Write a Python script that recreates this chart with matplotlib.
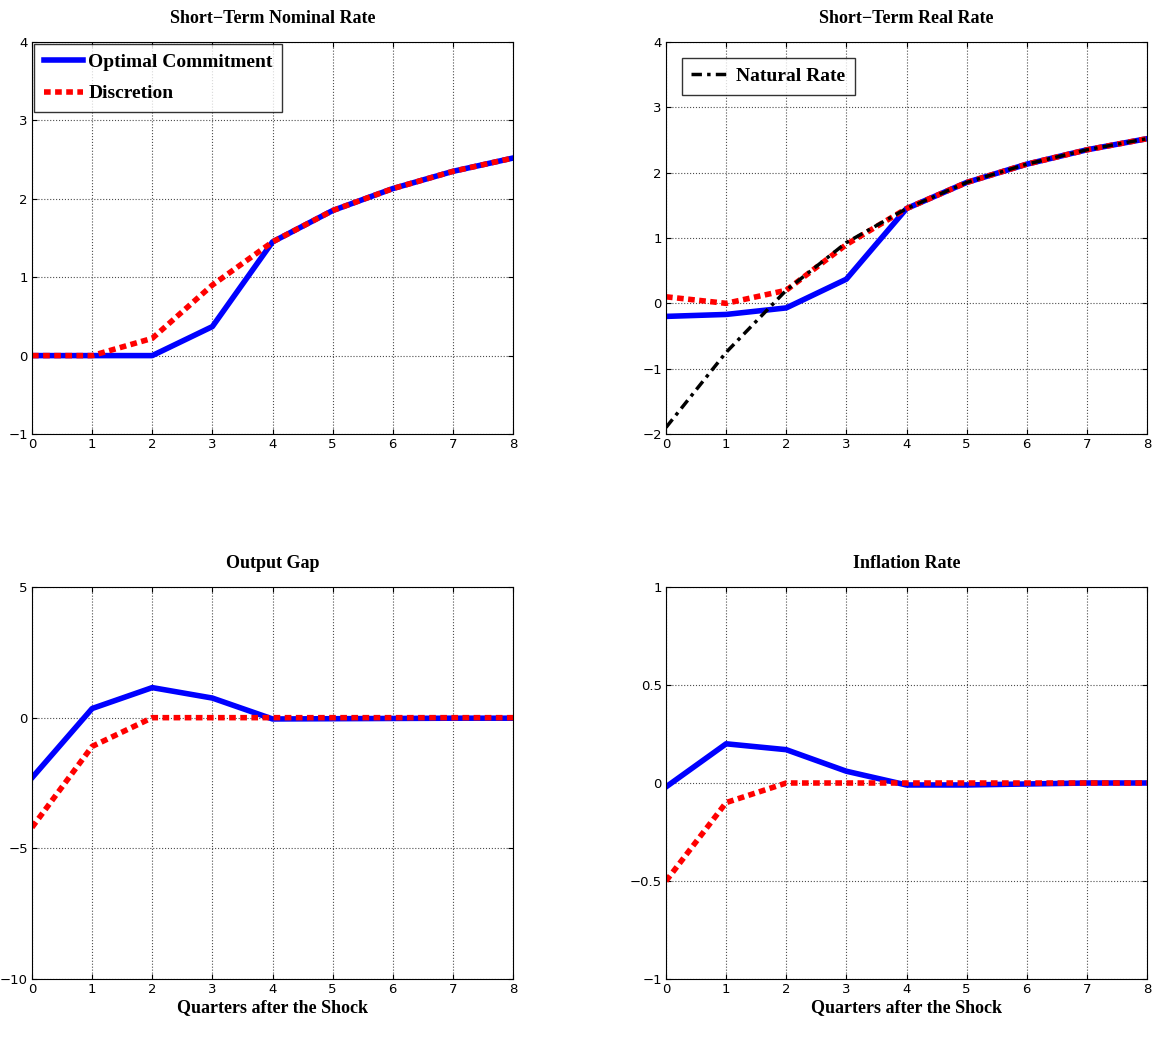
import matplotlib
matplotlib.use("Agg")
import matplotlib.pyplot as plt

x = list(range(9))
nom_commit = [0, 0, 0, 0.37, 1.45, 1.85, 2.13, 2.35, 2.52]
nom_disc = [0, 0, 0.22, 0.9, 1.45, 1.85, 2.13, 2.35, 2.52]
real_commit = [-0.2, -0.17, -0.07, 0.37, 1.45, 1.85, 2.13, 2.35, 2.52]
real_disc = [0.1, 0.0, 0.2, 0.9, 1.45, 1.85, 2.13, 2.35, 2.52]
real_nat = [-1.9, -0.75, 0.2, 0.93, 1.45, 1.85, 2.13, 2.35, 2.52]
gap_commit = [-2.3, 0.35, 1.15, 0.75, -0.05, -0.04, -0.03, -0.02, -0.02]
gap_disc = [-4.2, -1.1, 0, 0, 0, 0, 0, 0, 0]
inf_commit = [-0.02, 0.2, 0.17, 0.06, -0.01, -0.01, -0.005, 0, 0]
inf_disc = [-0.5, -0.1, 0, 0, 0, 0, 0, 0, 0]

fig = plt.figure(figsize=(11.56, 10.38), dpi=100)
L = [32/1156, 666/1156]
B = [1-434/1038, 1-979/1038]
W, H = 481/1156, 392/1038
tfont = {'family': 'Liberation Serif', 'weight': 'bold', 'size': 13}

def setup(ax, title, ylim, yticks, xlabel=False):
    ax.set_xlim(0, 8)
    ax.set_ylim(*ylim)
    ax.set_xticks(x)
    ax.set_yticks(yticks)
    ax.grid(True, linestyle=':', color='0.3', linewidth=0.8)
    ax.tick_params(direction='in', labelsize=9.5, top=True, right=True, pad=3)
    ax.set_title(title, fontdict=tfont, pad=14)
    if xlabel:
        ax.set_xlabel('Quarters after the Shock', fontdict=tfont, labelpad=2)

lp = {'family': 'Liberation Serif', 'weight': 'bold', 'size': 14}
ax1 = fig.add_axes([L[0], B[0], W, H])
ax1.plot(x, nom_commit, color='blue', lw=4, label='Optimal Commitment')
ax1.plot(x, nom_disc, color='red', lw=4, ls=(0, (1.2, 0.8)), label='Discretion')
setup(ax1, 'Short\u2212Term Nominal Rate', (-1, 4), range(-1, 5))
ax1.legend(loc='upper left', fancybox=False, edgecolor='black', prop=lp, borderaxespad=0.1, handlelength=2, handletextpad=0.3, labelspacing=0.7, borderpad=0.5)

ax2 = fig.add_axes([L[1], B[0], W, H])
ax2.plot(x, real_commit, color='blue', lw=4)
ax2.plot(x, real_disc, color='red', lw=4, ls=(0, (1.2, 0.8)))
ax2.plot(x, real_nat, color='black', lw=2.5, ls=(0, (3, 1.5, 1, 1.5)), label='Natural Rate')
setup(ax2, 'Short\u2212Term Real Rate', (-2, 4), range(-2, 5))
ax2.legend(loc='upper left', fancybox=False, edgecolor='black', prop=lp, borderaxespad=0.8, handlelength=2, handletextpad=0.3, borderpad=0.5)

ax3 = fig.add_axes([L[0], B[1], W, H])
ax3.plot(x, gap_commit, color='blue', lw=4)
ax3.plot(x, gap_disc, color='red', lw=4, ls=(0, (1.2, 0.8)))
setup(ax3, 'Output Gap', (-10, 5), [-10, -5, 0, 5], True)

ax4 = fig.add_axes([L[1], B[1], W, H])
ax4.plot(x, inf_commit, color='blue', lw=4)
ax4.plot(x, inf_disc, color='red', lw=4, ls=(0, (1.2, 0.8)))
setup(ax4, 'Inflation Rate', (-1, 1), [-1, -0.5, 0, 0.5, 1], True)
ax4.set_yticklabels(['\u22121', '\u22120.5', '0', '0.5', '1'])

fig.savefig('out.png', dpi=100)
